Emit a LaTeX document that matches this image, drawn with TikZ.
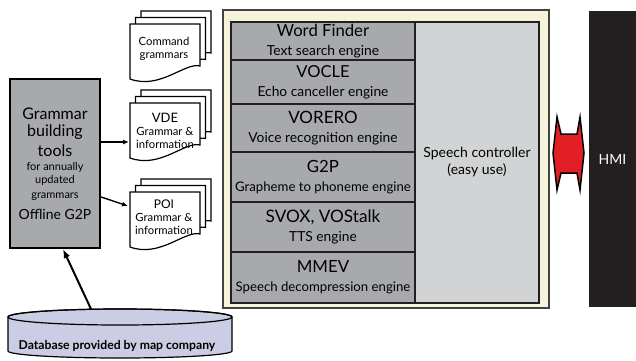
\documentclass[tikz,border=0pt]{standalone}
\usepackage{fontspec}
\setmainfont{Lato}
\usetikzlibrary{arrows.meta}

\definecolor{blockgray}{HTML}{A7A9AC}
\definecolor{ctrlgray}{HTML}{D1D3D4}
\definecolor{framecream}{HTML}{F5F3DA}
\definecolor{hmiblack}{HTML}{231F20}
\definecolor{hmired}{HTML}{E31E24}
\definecolor{dbblue}{HTML}{CACDE3}
\definecolor{inkgray}{HTML}{231F20}

\begin{document}
\begin{tikzpicture}[x=1pt,y=-1pt,
  block/.style={draw=inkgray,line width=1.4pt,fill=blockgray,minimum width=184pt,
    inner sep=0pt,align=center,font=\fontsize{13.8}{19}\selectfont},
  ctrl/.style={draw=inkgray,line width=1.4pt,fill=ctrlgray,minimum width=124pt,
    minimum height=281pt,align=center,font=\fontsize{14}{17}\selectfont},
  tool/.style={draw=black,line width=2.2pt,fill=blockgray,minimum width=90pt,
    minimum height=169pt,inner sep=0pt,align=center,font=\fontsize{11}{14}\selectfont},
  page/.style={draw=black,line width=1.2pt,fill=white},
  pagetext/.style={align=center,inner sep=0pt,font=\fontsize{11.3}{13}\selectfont},
  feed/.style={draw=black,line width=1.4pt,-{Latex[length=6pt,width=5pt]}},
  hmi/.style={fill=hmiblack,minimum width=47pt,minimum height=296pt,
    text=white,font=\fontsize{14}{17}\selectfont}]
\useasboundingbox (0,0) rectangle (636,360);

\filldraw[draw=inkgray!85,line width=2.2pt,fill=framecream] (223,10) rectangle (549,308);
\node[block,minimum height=38pt] (wordfinder) at (323,41)
  {{\fontsize{16.7}{18}\selectfont Word Finder}\\Text search engine};
\node[block,minimum height=44pt] (vocle) at (323,82)
  {{\fontsize{16.5}{18}\selectfont VOCLE}\\Echo canceller engine};
\node[block,minimum height=48pt] (vorero) at (323,128)
  {{\fontsize{17}{18}\selectfont VORERO}\\Voice recognition engine};
\node[block,minimum height=50pt,font=\fontsize{13.2}{19}\selectfont] (gtwop) at (323,177)
  {{\fontsize{16.8}{18}\selectfont G2P}\\Grapheme to phoneme engine};
\node[block,minimum height=50pt] (svox) at (323,227)
  {{\fontsize{17.2}{18}\selectfont SVOX, VOStalk}\\TTS engine};
\node[block,minimum height=51pt,font=\fontsize{13.2}{19}\selectfont] (mmev) at (323,277.5)
  {{\fontsize{16.8}{18}\selectfont MMEV}\\Speech decompression engine};
\node[ctrl] (speech) at (477,162.5) {Speech controller\\(easy use)};

\node[hmi] (hmi) at (612.5,159) {HMI};
\filldraw[fill=hmired,draw=black,line width=1.5pt,line join=miter]
  (557,117) -- (561,134) -- (577,134) -- (580,117) -- (584,153) -- (580,190)
  -- (577,173) -- (561,173) -- (557,190) -- (553,153) -- cycle;

\foreach \py in {24,103,192} {
  \foreach \dx/\dy in {11/-13,5.5/-6.5,0/0} {
    \filldraw[page,shift={(\dx,\py+\dy)}] (130,0) -- (200,0) -- (200,42)
      .. controls (185,38) and (160,66) .. (130,55) -- cycle;
  }
}
\node[pagetext] (cmd) at (164,49) {Command\\grammars};
\node[pagetext] (vde) at (165,131) {{\fontsize{13}{15}\selectfont VDE}\\Grammar \&\\information};
\node[pagetext] (poi) at (164,217) {{\fontsize{12}{14}\selectfont POI}\\Grammar \&\\information};
\coordinate (vdein) at (129,142);
\coordinate (poiin) at (128,206);

\node[tool] (gbt) at (55,163.5) {{\fontsize{16}{18}\selectfont Grammar}\\[3pt]
  {\fontsize{16}{18}\selectfont building}\\[4pt]{\fontsize{16}{18}\selectfont tools}\\
  for annually\\[-1pt]updated\\[1pt]grammars\\[7pt]{\fontsize{14}{16}\selectfont Offline G2P}};

\filldraw[draw=black,line width=1.2pt,fill=dbblue] (8,317) -- (8,351)
  arc[start angle=180,end angle=360,x radius=112pt,y radius=7pt] -- (232,317)
  arc[start angle=0,end angle=180,x radius=112pt,y radius=8pt] -- cycle;
\draw[line width=1.2pt] (120,317) ellipse [x radius=112pt,y radius=8pt];
\node[font=\fontsize{12.2}{14}\selectfont\bfseries] (db) at (117,346)
  {Database provided by map company};
\coordinate (dbtop) at (91,309);

\draw[feed] ([yshift=21.5pt]gbt.east) -- (vdein);
\draw[feed] ([yshift=-33.5pt]gbt.east) -- (poiin);
\draw[feed,line width=2pt,-{Latex[length=9pt,width=7pt]}] (dbtop) -- ([xshift=8pt]gbt.south);
\end{tikzpicture}
\end{document}
